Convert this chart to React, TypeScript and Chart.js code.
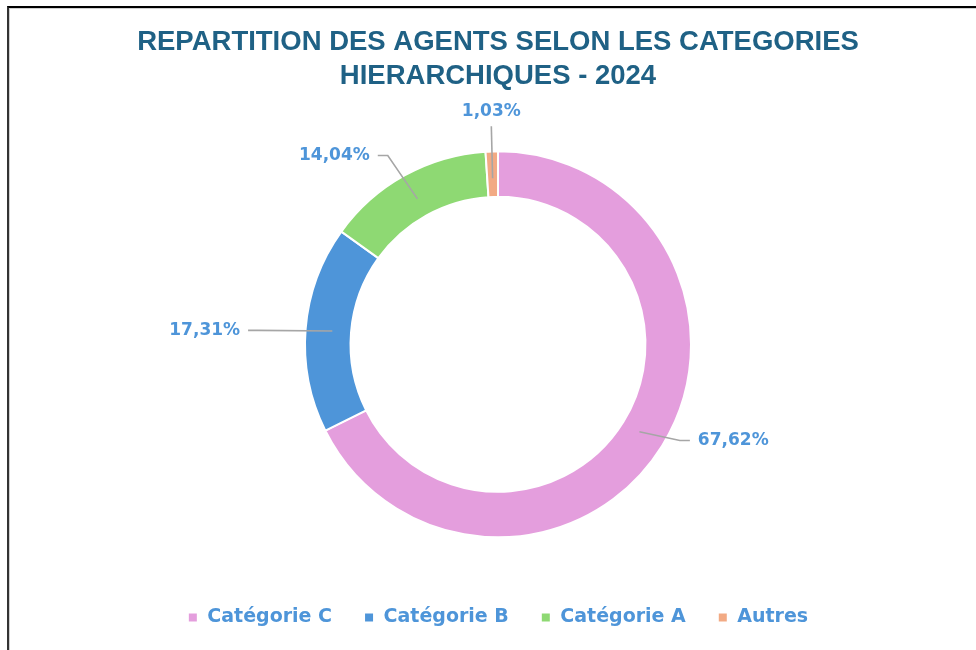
import React, { useEffect, useRef } from "react";
import { Chart, registerables } from "chart.js";

Chart.register(...registerables);

const categories = ["Catégorie C", "Catégorie B", "Catégorie A", "Autres"];
const shares = [67.62, 17.31, 14.04, 1.03];
const sliceColors = ["#E49EDD", "#4E95D9", "#8ED973", "#F2AA84"];
const titleLines = ["REPARTITION DES AGENTS SELON LES CATEGORIES", "HIERARCHIQUES - 2024"];

// leader-label placement: radius factor (of outer radius), angle shift (deg), text side
const labelPlacement = [
  { rf: 1.112, da: -5.1, side: "right" },
  { rf: 1.297, da: -1.4, side: "left" },
  { rf: 1.16, da: -3.5, side: "left" },
  { rf: 1.13, da: 0.1, side: "top" },
];

const fmt = (v: number) => v.toFixed(2).replace(".", ",") + "%";

const leaderLabels = {
  id: "leaderLabels",
  afterDatasetsDraw(chart: any) {
    const meta = chart.getDatasetMeta(0);
    const ctx = chart.ctx;
    ctx.save();
    meta.data.forEach((arc: any, i: number) => {
      const p = arc.getProps(["x", "y", "startAngle", "endAngle", "innerRadius", "outerRadius"], true);
      const mid = (p.startAngle + p.endAngle) / 2;
      const rm = (p.innerRadius + p.outerRadius) / 2 - 4;
      const sx = p.x + rm * Math.cos(mid);
      const sy = p.y + rm * Math.sin(mid);
      const pl = labelPlacement[i];
      const a2 = mid + (pl.da * Math.PI) / 180;
      const r2 = p.outerRadius * pl.rf;
      const ex = p.x + r2 * Math.cos(a2);
      const ey = p.y + r2 * Math.sin(a2);
      const tail = 10;
      ctx.strokeStyle = "#A6A6A6";
      ctx.lineWidth = 1.6;
      ctx.beginPath();
      ctx.moveTo(sx, sy);
      if (pl.side === "right") ctx.lineTo(ex - tail, ey);
      else if (pl.side === "left") ctx.lineTo(ex + tail, ey);
      ctx.lineTo(ex, ey);
      ctx.stroke();
      ctx.fillStyle = "#4E95D9";
      ctx.font = "bold 17px 'DejaVu Sans'";
      ctx.textBaseline = "middle";
      const txt = fmt(shares[i]);
      if (pl.side === "right") {
        ctx.textAlign = "left";
        ctx.fillText(txt, ex + 8, ey);
      } else if (pl.side === "left") {
        ctx.textAlign = "right";
        ctx.fillText(txt, ex - 8, ey);
      } else {
        ctx.textAlign = "center";
        ctx.fillText(txt, ex, ey - 15);
      }
    });
    ctx.restore();
  },
};

export default function App() {
  const ref = useRef<HTMLCanvasElement>(null);
  useEffect(() => {
    if (!ref.current) return;
    const chart = new Chart(ref.current, {
      type: "doughnut",
      data: {
        labels: categories,
        datasets: [
          {
            data: shares,
            backgroundColor: sliceColors,
            borderColor: "#FFFFFF",
            borderWidth: 2,
            radius: 193,
          },
        ],
      },
      options: {
        responsive: false,
        animation: false,
        cutout: "76.4%",
        layout: { padding: { left: 20, right: 0, top: 0, bottom: 13 } },
        plugins: {
          title: {
            display: true,
            text: titleLines,
            color: "#1F6185",
            font: { family: "'Liberation Sans'", size: 27.5, weight: "bold", lineHeight: 1.23 },
            padding: { top: 25.5, bottom: 19.5 },
          },
          legend: {
            position: "bottom",
            labels: {
              usePointStyle: true,
              pointStyle: "rect",
              boxWidth: 10,
              boxHeight: 10,
              padding: 32,
              color: "#4E95D9",
              font: { family: "'DejaVu Sans'", size: 19, weight: "bold" },
            },
          },
          tooltip: { enabled: false },
        },
      },
      plugins: [leaderLabels],
    });
    return () => chart.destroy();
  }, []);

  return (
    <div style={{ position: "absolute", left: 0, top: 0, width: 976, height: 650, overflow: "hidden", background: "#fff" }}>
      <canvas ref={ref} width={976} height={650} style={{ position: "absolute", left: 0, top: 0 }} />
      <div
        style={{
          position: "absolute",
          left: 7,
          top: 6,
          width: 1000,
          height: 700,
          borderTop: "2px solid #000",
          borderLeft: "2px solid #333",
          boxShadow: "inset 1px 1px 0 #D0D0D0",
          pointerEvents: "none",
        }}
      />
    </div>
  );
}
